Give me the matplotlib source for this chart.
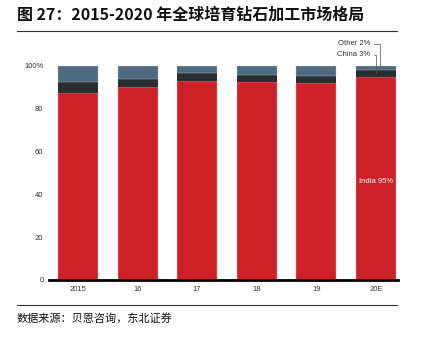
# -*- coding: utf-8 -*-
# 2015-2020 全球培育钻石加工市场格局 堆积柱形图

import numpy as np
import matplotlib.pyplot as plt

plt.rcParams['font.family'] = ['Noto Sans CJK SC', 'DejaVu Sans']

# 数据
years = ['2015', '16', '17', '18', '19', '20E']
india = [87.5, 90, 93, 92.5, 92, 95]
china = [5, 4, 3.5, 3.5, 3.5, 3]
other = [7.5, 6, 3.5, 4, 4.5, 2]

c_india = '#CE2027'
c_china = '#2A2D31'
c_other = '#4D6A80'

W, H = 421, 339
fig = plt.figure(figsize=(W / 100, H / 100), dpi=100)

# 标题
fig.text(17 / W, 1 - 15 / H, '图 27：2015-2020 年全球培育钻石加工市场格局',
         fontsize=11.5, fontweight='bold', ha='left', va='center', color='#111111')
fig.add_artist(plt.Line2D([17 / W, 397 / W], [1 - 31 / H, 1 - 31 / H],
                          color='#333333', lw=0.8))
fig.add_artist(plt.Line2D([17 / W, 397 / W], [1 - 305 / H, 1 - 305 / H],
                          color='#333333', lw=0.8))
fig.text(17 / W, 1 - 318 / H, '数据来源：贝恩咨询，东北证券',
         fontsize=8, ha='left', va='center', color='#111111')

# 画图
ax = fig.add_axes([49 / W, 1 - 280 / H, (398 - 49) / W, (280 - 66) / H])
x = np.arange(len(years))
width = 0.67
india = np.array(india)
china = np.array(china)
other = np.array(other)
ax.bar(x, india, width, color=c_india, edgecolor='#E8B0B0', linewidth=0.3)
ax.bar(x, china, width, bottom=india, color=c_china, linewidth=0)
ax.bar(x, other, width, bottom=india + china, color=c_other, edgecolor='#B0C0CC', linewidth=0.3)

ax.set_xlim(-0.487, 5.37)
ax.set_ylim(0, 100)
ax.set_xticks(x)
ax.set_xticklabels(years, family='Liberation Sans')
ax.set_yticks([0, 20, 40, 60, 80, 100])
ax.set_yticklabels(['0', '20', '40', '60', '80', '100%'], family='Liberation Sans')
ax.tick_params(length=0, labelsize=5.5, colors='#333333', pad=4)
for s in ['top', 'right', 'left']:
    ax.spines[s].set_visible(False)
ax.spines['bottom'].set_linewidth(2)
ax.spines['bottom'].set_color('black')

# 标注
ax.text(5, 46, 'India 95%', color='white', fontsize=5.5, ha='center', va='center',
        family='Liberation Sans')
ax.annotate('Other 2%', xy=(5.07, india[5] + china[5] + 1), xytext=(4.9, 110.3),
            fontsize=5.5, color='#333333', ha='right', va='center',
            family='Liberation Sans', annotation_clip=False,
            arrowprops=dict(arrowstyle='-', color='#555555', lw=0.5,
                            connectionstyle='angle,angleA=0,angleB=90,rad=0',
                            shrinkA=1, shrinkB=0))
ax.annotate('China 3%', xy=(5.0, india[5] + china[5] / 2), xytext=(4.9, 105.2),
            fontsize=5.5, color='#333333', ha='right', va='center',
            family='Liberation Sans', annotation_clip=False,
            arrowprops=dict(arrowstyle='-', color='#555555', lw=0.5,
                            connectionstyle='angle,angleA=0,angleB=90,rad=0',
                            shrinkA=1, shrinkB=0))

fig.savefig('out.png', dpi=100)
